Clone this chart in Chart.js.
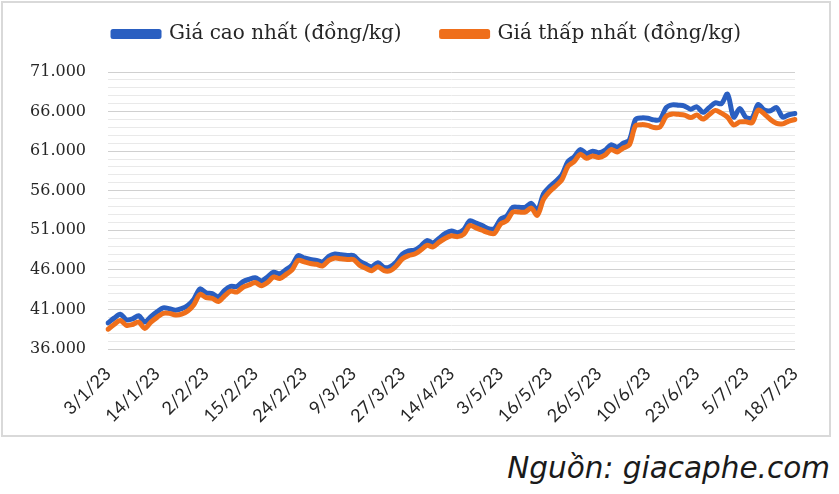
<!DOCTYPE html>
<html>
<head>
<meta charset="utf-8">
<script src="https://cdn.jsdelivr.net/npm/chart.js@4/dist/chart.umd.min.js"></script>
<style>
  html, body { margin:0; padding:0; background:#fff; }
  body { width:839px; height:494px; position:relative; overflow:hidden; }
  #box { position:absolute; left:1px; top:1px; width:826px; height:432px; border:2px solid #d9d9d9; }
  #box canvas { display:block; }
  #src { position:absolute; right:9px; top:451px; font-family:'DejaVu Sans', sans-serif; font-style:italic; font-size:29.5px; color:#1a1a1a; }
</style>
</head>
<body>
<div id="box"><canvas id="chart" width="826" height="432"></canvas></div>
<div id="src">Nguồn: giacaphe.com</div>
<script>
// Giá cà phê nhân xô, 3/1/23 - 18/7/23
const tickLabels = ['3/1/23','14/1/23','2/2/23','15/2/23','24/2/23','9/3/23','27/3/23','14/4/23','3/5/23','16/5/23','26/5/23','10/6/23','23/6/23','5/7/23','18/7/23'];
const pointsPerTick = 8;

const giaCao = [
  39300,39900,40400,39700,39800,40200,39400,40100,40700,41200,
  41100,40900,41100,41500,42300,43600,43100,43000,42600,43400,
  43900,43900,44500,44800,45000,44600,45100,45700,45500,46000,
  46600,47800,47500,47300,47200,47000,47700,48000,47900,47800,
  47800,47100,46700,46400,46900,46300,46400,47000,48000,48400,
  48500,49000,49700,49400,50000,50600,50900,50700,51100,52200,
  51900,51600,51200,51200,52400,52800,53900,53900,53900,54400,
  53500,55600,56500,57200,58000,59700,60300,61200,60700,61000,
  60800,61100,61800,61500,62000,62400,65000,65200,65150,64950,
  65000,66500,66850,66800,66700,66300,66600,65900,66500,67100,
  67000,68200,65300,66400,65250,65200,66900,66200,66100,66500,
  65300,65600,65750
];
const giaThap = [
  38500,39100,39600,39000,39100,39400,38600,39400,40000,40500,
  40500,40300,40400,40800,41600,42900,42500,42400,42000,42700,
  43300,43200,43800,44100,44400,44000,44400,45100,44900,45400,
  46000,47200,47000,46800,46700,46500,47200,47500,47400,47300,
  47300,46600,46200,45900,46400,45900,45900,46500,47400,47800,
  48000,48500,49100,48900,49500,50000,50300,50200,50500,51600,
  51300,51000,50700,50600,51800,52200,53300,53300,53300,53800,
  52900,54900,55900,56600,57400,59100,59700,60600,60100,60400,
  60200,60500,61200,60900,61400,61800,64200,64350,64250,64000,
  64050,65400,65700,65650,65550,65240,65570,65050,65600,66150,
  65800,65300,64300,64700,64700,64600,66200,65700,65000,64500,
  64450,64800,65000
];

const yMin = 36000, yMax = 71000, yLabelStep = 5000;

const labels = giaCao.map((v, i) => i % pointsPerTick === 0 ? tickLabels[i / pointsPerTick] : '');

function fmt(v){ return v.toLocaleString('de-DE'); }

// legend: extra room under it, and nudged right to sit over the plot
const legendTweak = {
  id:'legendTweak',
  beforeInit(chart){
    const fit = chart.legend.fit;
    chart.legend.fit = function(){ fit.call(this); this.height += 18; };
  },
  afterLayout(chart){
    chart.legend.left += 28;
    chart.legend.right += 28;
  }
};

new Chart(document.getElementById('chart'), {
  type: 'line',
  data: {
    labels,
    datasets: [
      { label:'Giá cao nhất (đồng/kg)', data:giaCao, borderColor:'#2a5fc1', backgroundColor:'#2a5fc1', order:1 },
      { label:'Giá thấp nhất (đồng/kg)', data:giaThap, borderColor:'#ef6f1b', backgroundColor:'#ef6f1b', order:0 }
    ]
  },
  plugins:[legendTweak],
  options: {
    responsive:false,
    animation:false,
    layout:{ padding:{ left:0, right:34, top:-19, bottom:6 } },
    elements:{
      line:{ borderWidth:5, tension:0.3, borderJoinStyle:'round', borderCapStyle:'round', fill:false },
      point:{ radius:0 }
    },
    plugins:{
      tooltip:{ enabled:false },
      legend:{
        position:'top',
        labels:{
          color:'#262626',
          font:{ family:'DejaVu Serif', size:20 },
          boxWidth:46, boxHeight:5, padding:40,
          sort:(a, b) => a.datasetIndex - b.datasetIndex
        }
      }
    },
    scales:{
      x:{
        grid:{ display:false },
        border:{ display:false },
        ticks:{
          autoSkip:false, minRotation:45, maxRotation:45, padding:6,
          color:'#262626', font:{ family:'Lato', size:18 }
        },
        afterFit(scale){ scale.height = 80; }
      },
      y:{
        min:yMin, max:yMax,
        border:{ display:false },
        grid:{
          drawTicks:false,
          color:(ctx) => (ctx.tick && (ctx.tick.value - yMin) % yLabelStep === 0) ? '#d0d0d0' : '#e9e9e9'
        },
        ticks:{
          stepSize:1000, autoSkip:false, maxTicksLimit:100, padding:22,
          color:'#262626', font:{ family:'DejaVu Serif', size:16 },
          callback:(v) => (v - yMin) % yLabelStep === 0 ? fmt(v) : ''
        },
        afterFit(scale){ scale.width = 105; }
      }
    }
  }
});
</script>
</body>
</html>
